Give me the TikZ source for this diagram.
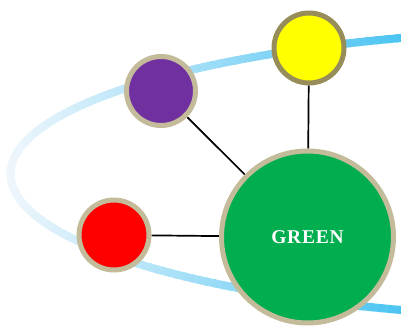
\documentclass[tikz,border=0pt]{standalone}
\usepackage{fontspec}
\setmainfont{Liberation Serif}
\usetikzlibrary{backgrounds}
\definecolor{bandblue}{HTML}{4CC4F2}
\definecolor{bandpale}{HTML}{EEF6FC}
\definecolor{rimtan}{HTML}{C4BB9A}
\definecolor{rimolive}{HTML}{978D58}
\definecolor{greenfill}{HTML}{00AD4F}
\definecolor{purplefill}{HTML}{7030A0}
\definecolor{redfill}{HTML}{FF0000}
\definecolor{yellowfill}{HTML}{FFFF00}
\begin{document}
\begin{tikzpicture}[x=1pt,y=-1pt,
  ball/.style={circle, draw=rimtan, line width=5pt, inner sep=0pt},
  link/.style={draw=black, line width=1.7pt}]
\useasboundingbox (0,0) rectangle (401,328);
% hub and satellites
\node[ball, fill=greenfill, minimum size=172pt, text=white,
      font=\bfseries\fontsize{19.5}{19.5}\selectfont\addfontfeature{LetterSpace=4}]
      (green) at (307.5,237) {GREEN};
\node[ball, fill=purplefill, minimum size=69pt] (purple) at (161,91) {};
\node[ball, fill=redfill, minimum size=70pt] (red) at (114,235) {};
\node[ball, fill=yellowfill, draw=rimolive, minimum size=70pt] (yellow) at (309,48) {};
\begin{scope}[on background layer]
  \begin{scope}
    \clip (0,0) rectangle (401,328);
    % elliptical orbit, fading from blue on the right to pale on the left
    \foreach \t in {104,...,256} {
      \pgfmathsetmacro\xm{600+589.5*cos(\t+0.5)}
      \pgfmathsetmacro\pct{max(0,min(100,(\xm-10)/391*100))}
      \draw[line width=8pt, draw=bandblue!\pct!bandpale]
        ({600+589.5*cos(\t)},{174-144.5*sin(\t)}) --
        ({600+589.5*cos(\t+1.4)},{174-144.5*sin(\t+1.4)});
    }
  \end{scope}
  \draw[link] (purple) -- (green);
  \draw[link] (yellow) -- (green);
  \draw[link] (red) -- (green);
\end{scope}
\end{tikzpicture}
\end{document}
